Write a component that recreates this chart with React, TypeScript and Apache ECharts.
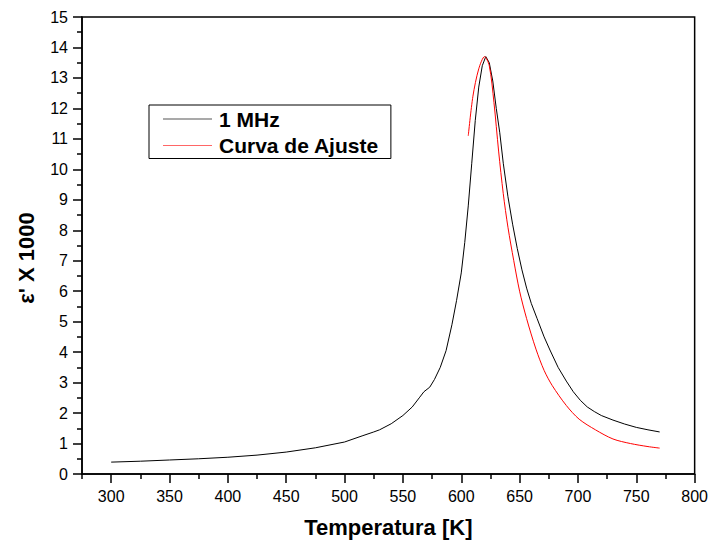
import React, { useEffect, useRef } from "react";
import * as echarts from "echarts";

// 1 MHz measured curve
const tempMeasured = [300, 325, 350, 375, 400, 425, 450, 475, 500, 515, 525, 530, 540, 550, 558, 564, 568, 573, 577, 582, 587, 592, 596, 600, 603, 606, 609, 612, 615, 618, 621, 624, 627, 630, 633, 636, 640, 644, 648, 652, 656, 660, 665, 671, 676, 683, 690, 696, 702, 708, 714, 720, 730, 740, 750, 760, 770];
const epsMeasured = [0.39, 0.42, 0.46, 0.5, 0.55, 0.62, 0.72, 0.86, 1.05, 1.25, 1.38, 1.45, 1.65, 1.92, 2.2, 2.5, 2.7, 2.85, 3.1, 3.5, 4.05, 4.9, 5.7, 6.6, 7.6, 8.8, 10.2, 11.6, 12.7, 13.4, 13.7, 13.5, 12.9, 12.0, 11.2, 10.2, 9.1, 8.2, 7.4, 6.7, 6.1, 5.6, 5.1, 4.5, 4.07, 3.5, 3.05, 2.7, 2.42, 2.2, 2.05, 1.92, 1.77, 1.64, 1.53, 1.45, 1.38];

// Fit curve
const tempFit = [606, 610, 615, 620, 624, 628, 632, 636, 640, 645, 650, 656, 664, 671, 678, 690, 701, 715, 730, 745, 760, 770];
const epsFit = [11.1, 12.4, 13.3, 13.7, 13.4, 12.2, 10.6, 9.2, 8.1, 7.0, 6.0, 5.1, 4.1, 3.4, 2.9, 2.25, 1.8, 1.45, 1.15, 1.0, 0.9, 0.85];

const majorX = [300, 350, 400, 450, 500, 550, 600, 650, 700, 750, 800];
const minorX = [275, 325, 375, 425, 475, 525, 575, 625, 675, 725, 775];

const seriesNames = ["1 MHz", "Curva de Ajuste"];
const xTitle = "Temperatura [K]";
const yTitle = "ε' X 1000";

const FONT = "'Liberation Sans', Arial, sans-serif";

export default function App() {
  const ref = useRef<HTMLDivElement>(null);
  useEffect(() => {
    if (!ref.current) return;
    const chart = echarts.init(ref.current, null, { renderer: "svg" });
    const measured = tempMeasured.map((t, i) => [t, epsMeasured[i]]);
    const fit = tempFit.map((t, i) => [t, epsFit[i]]);
    chart.setOption({
      animation: false,
      backgroundColor: "#fff",
      grid: {
        left: 82,
        right: 16,
        top: 17,
        bottom: 72,
        show: true,
        borderColor: "#000",
        borderWidth: 1.5,
        backgroundColor: "transparent",
      },
      legend: {
        orient: "vertical",
        left: 149,
        top: 105,
        data: seriesNames,
        icon: "rect",
        itemWidth: 49,
        itemHeight: 1,
        itemGap: 4.5,
        borderColor: "#000",
        borderWidth: 1,
        borderRadius: 0,
        padding: [3, 12, 2, 14],
        textStyle: {
          fontFamily: FONT,
          fontSize: 21,
          fontWeight: "bold",
          color: "#000",
          lineHeight: 22,
          padding: [0, 0, 0, 2],
        },
      },
      xAxis: [
        {
          type: "value",
          min: 275,
          max: 800,
          name: xTitle,
          nameLocation: "middle",
          nameGap: 42,
          nameTextStyle: { fontFamily: FONT, fontSize: 22, fontWeight: "bold", color: "#000" },
          axisLine: { show: true, onZero: false, lineStyle: { color: "#000", width: 1.5 } },
          axisTick: { show: true, length: 9, customValues: majorX, lineStyle: { color: "#000", width: 1.5 } },
          axisLabel: { customValues: majorX, margin: 14, fontFamily: FONT, fontSize: 16, color: "#000" },
          splitLine: { show: false },
        },
        {
          type: "value",
          min: 275,
          max: 800,
          position: "bottom",
          axisLine: { show: false },
          axisTick: { show: true, length: 5, customValues: minorX, lineStyle: { color: "#000", width: 1.5 } },
          axisLabel: { show: false },
          splitLine: { show: false },
        },
      ],
      yAxis: {
        type: "value",
        min: 0,
        max: 15,
        interval: 1,
        axisLine: { show: true, onZero: false, lineStyle: { color: "#000", width: 1.5 } },
        axisTick: { show: true, length: 9, lineStyle: { color: "#000", width: 1.5 } },
        minorTick: { show: true, splitNumber: 2, length: 5, lineStyle: { color: "#000", width: 1.5 } },
        axisLabel: { margin: 14, fontFamily: FONT, fontSize: 16, color: "#000" },
        splitLine: { show: false },
        minorSplitLine: { show: false },
      },
      graphic: [
        {
          type: "text",
          x: 26,
          y: 258,
          rotation: Math.PI / 2,
          style: {
            text: yTitle,
            font: `bold 22px ${FONT}`,
            fill: "#000",
            align: "center",
            verticalAlign: "middle",
          },
        },
      ],
      series: [
        {
          name: seriesNames[0],
          type: "line",
          xAxisIndex: 0,
          data: measured,
          showSymbol: false,
          symbol: "none",
          lineStyle: { color: "#000", width: 1 },
          itemStyle: { color: "#555" },
        },
        {
          name: seriesNames[1],
          type: "line",
          xAxisIndex: 0,
          data: fit,
          smooth: 0.3,
          showSymbol: false,
          symbol: "none",
          lineStyle: { color: "#ff0000", width: 1 },
          itemStyle: { color: "#ff6666" },
        },
      ],
    });
    return () => chart.dispose();
  }, []);
  return (
    <div
      ref={ref}
      style={{ position: "fixed", left: 0, top: 0, width: 711, height: 546, background: "#fff" }}
    />
  );
}
